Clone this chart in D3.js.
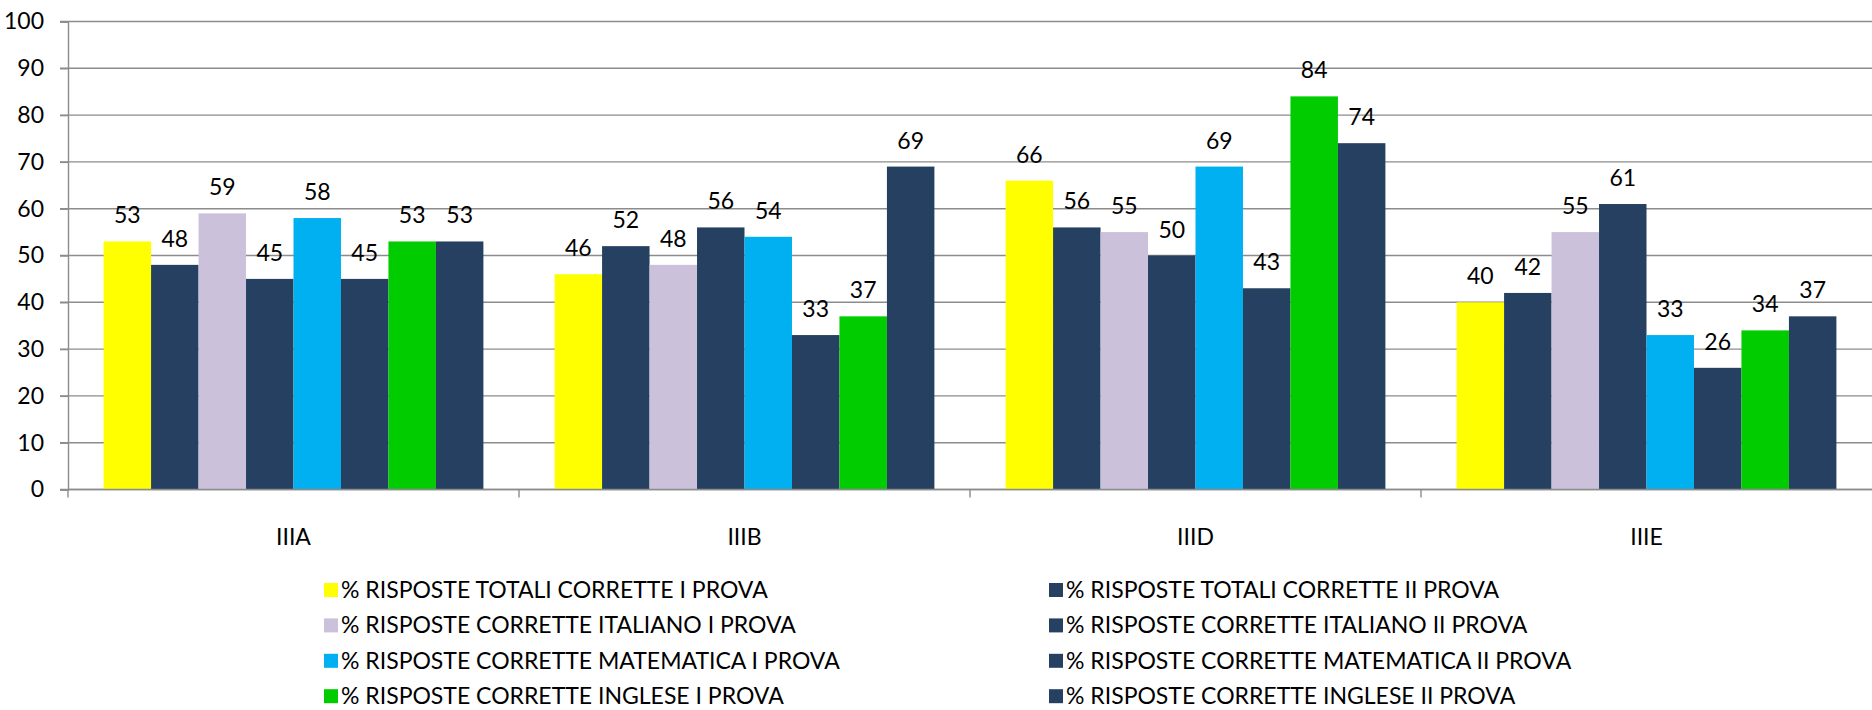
<!DOCTYPE html>
<html>
<head>
<meta charset="utf-8">
<script src="https://cdn.jsdelivr.net/npm/d3@7"></script>
<style>
  body { margin: 0; background: #fff; }
  text { font-family: Lato, "Open Sans", sans-serif; fill: #000; }
</style>
</head>
<body>
<svg></svg>
<script>
var classes = ["IIIA", "IIIB", "IIID", "IIIE"];

var seriesNames = [
  "% RISPOSTE TOTALI CORRETTE I PROVA",
  "% RISPOSTE TOTALI CORRETTE II PROVA",
  "% RISPOSTE CORRETTE ITALIANO I PROVA",
  "% RISPOSTE CORRETTE ITALIANO II PROVA",
  "% RISPOSTE CORRETTE MATEMATICA I PROVA",
  "% RISPOSTE CORRETTE MATEMATICA II PROVA",
  "% RISPOSTE CORRETTE INGLESE I PROVA",
  "% RISPOSTE CORRETTE INGLESE II PROVA"
];

var seriesColors = ["#ffff00", "#254061", "#ccc1da", "#254061", "#00b0f0", "#254061", "#00cc00", "#254061"];

// one array per class, in series order
var valuesIIIA = [53, 48, 59, 45, 58, 45, 53, 53];
var valuesIIIB = [46, 52, 48, 56, 54, 33, 37, 69];
var valuesIIID = [66, 56, 55, 50, 69, 43, 84, 74];
var valuesIIIE = [40, 42, 55, 61, 33, 26, 34, 37];
var allValues = [valuesIIIA, valuesIIIB, valuesIIID, valuesIIIE];

var yTicks = [0, 10, 20, 30, 40, 50, 60, 70, 80, 90, 100];

var svgWidth = 1872;
var svgHeight = 710;
// plot area edges (note: "top" would clash with window.top)
var plotL = 68, plotR = 1872, plotT = 21.5, plotB = 489.5;

var svg = d3.select("svg")
  .attr("width", svgWidth)
  .attr("height", svgHeight);

var x0 = d3.scaleBand().domain(classes).range([plotL, plotR]);
// excel-like gap width 150%: 8 bars + 1.5 bar of gap
var barW = x0.bandwidth() / 9.5;
var x1 = d3.scaleBand().domain(d3.range(8))
  .range([barW * 0.75, barW * 8.75]);

var y = d3.scaleLinear().domain([0, 100]).range([plotB, plotT]);

// gridlines
svg.append("g")
  .selectAll("line")
  .data(yTicks)
  .enter()
  .append("line")
  .attr("x1", plotL - 8)
  .attr("x2", plotR)
  .attr("y1", function(d) { return y(d); })
  .attr("y2", function(d) { return y(d); })
  .attr("stroke", "#8c8c8c")
  .attr("stroke-width", 1.4);

// y axis
var yAxis = svg.append("g")
  .attr("transform", "translate(" + plotL + ",0)")
  .call(d3.axisLeft(y).tickValues(yTicks).tickSize(8).tickPadding(16));
yAxis.select(".domain").attr("stroke", "#8c8c8c").attr("stroke-width", 1.4);
yAxis.selectAll(".tick line").attr("stroke", "#8c8c8c").attr("stroke-width", 1.4);
yAxis.selectAll("text").style("font-size", "23px").style("font-family", "Lato, sans-serif").attr("fill", "#000");

// bars
var groups = svg.selectAll(".cls")
  .data(classes)
  .enter()
  .append("g")
  .attr("class", "cls")
  .attr("transform", function(d) { return "translate(" + x0(d) + ",0)"; });

groups.selectAll("rect")
  .data(function(d, i) { return allValues[i]; })
  .enter()
  .append("rect")
  .attr("x", function(d, i) { return x1(i); })
  .attr("y", function(d) { return y(d); })
  .attr("width", x1.bandwidth())
  .attr("height", function(d) { return plotB - y(d); })
  .attr("fill", function(d, i) { return seriesColors[i]; });

groups.selectAll("text")
  .data(function(d, i) { return allValues[i]; })
  .enter()
  .append("text")
  .text(function(d) { return d; })
  .attr("x", function(d, i) { return x1(i) + x1.bandwidth() / 2; })
  .attr("y", function(d) { return y(d) - 18; })
  .attr("text-anchor", "middle")
  .style("font-size", "23px");

// x axis
var xAxis = svg.append("g")
  .attr("transform", "translate(0," + plotB + ")");
xAxis.append("line")
  .attr("x1", plotL).attr("x2", plotR)
  .attr("stroke", "#8c8c8c").attr("stroke-width", 1.4);
xAxis.selectAll(".sep")
  .data(classes)
  .enter()
  .append("line")
  .attr("x1", function(d) { return x0(d); })
  .attr("x2", function(d) { return x0(d); })
  .attr("y1", 0).attr("y2", 8)
  .attr("stroke", "#8c8c8c").attr("stroke-width", 1.4);
xAxis.selectAll(".lab")
  .data(classes)
  .enter()
  .append("text")
  .text(function(d) { return d; })
  .attr("x", function(d) { return x0(d) + x0.bandwidth() / 2; })
  .attr("y", 55)
  .attr("text-anchor", "middle")
  .style("font-size", "23px");

// legend, I PROVA left, II PROVA right
var legend = svg.selectAll(".leg")
  .data(seriesNames)
  .enter()
  .append("g")
  .attr("class", "leg")
  .attr("transform", function(d, i) {
    var col = i % 2, row = Math.floor(i / 2);
    return "translate(" + (col ? 1049 : 324) + "," + (590 + row * 35.4) + ")";
  });

legend.append("rect")
  .attr("x", 0).attr("y", -7)
  .attr("width", 14).attr("height", 14)
  .attr("fill", function(d, i) { return seriesColors[i]; });

legend.append("text")
  .text(function(d) { return d; })
  .attr("x", 17)
  .attr("y", 8)
  .style("font-size", "23px");
</script>
</body>
</html>
